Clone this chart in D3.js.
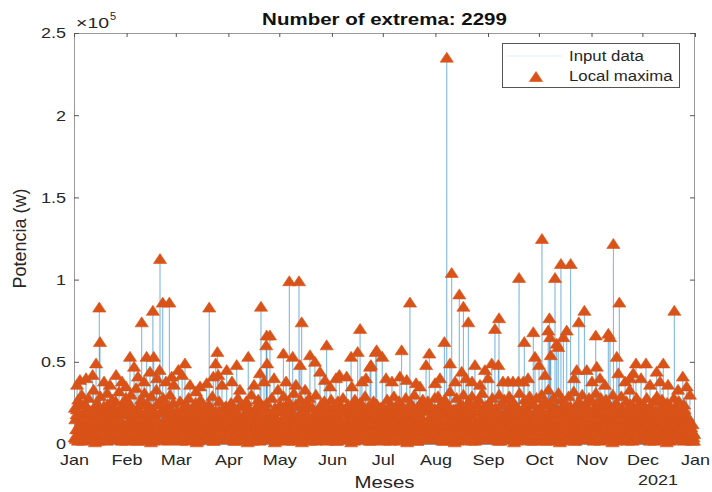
<!DOCTYPE html>
<html>
<head>
<meta charset="utf-8">
<script src="https://cdn.jsdelivr.net/npm/d3@7"></script>
<style>
  body { margin: 0; background: #fff; }
  svg text { font-family: "Liberation Sans", Arial, Helvetica, sans-serif; fill: #262626; }
</style>
</head>
<body>
<svg id="chart" width="712" height="492"></svg>
<script>
// Daily power readings for 2020, in kW, by month: night-time bursts
const dailyLow = [
  [6,3,9,5,11,2,8,4,10,7,3,12,5,8,2,9,6,11,4,7,3,10,5,8,12,4,6,9,2,7,10],
  [5,9,3,11,6,8,2,10,4,7,12,5,3,9,6,11,2,8,4,10,7,3,9,5,12,6,4,8,3],
  [7,4,10,2,8,5,11,3,9,6,4,12,7,2,10,5,8,3,11,6,4,9,2,7,10,5,3,8,6,11,4],
  [3,8,5,11,2,9,6,4,10,7,3,12,5,8,2,9,6,11,4,7,3,10,5,8,12,4,6,9,2,7],
  [10,5,8,3,11,6,4,9,2,7,12,5,3,10,6,8,4,11,2,9,5,7,3,10,6,12,4,8,2,9,5],
  [4,9,6,2,10,7,3,11,5,8,4,12,6,2,9,5,10,3,7,11,4,8,2,6,9,5,12,3,7,10],
  [6,2,9,5,11,3,8,4,10,7,2,12,5,9,3,8,6,11,4,7,2,10,5,9,3,12,6,8,4,10,5],
  [8,4,11,6,2,9,5,12,3,7,10,4,8,2,11,6,9,3,7,12,5,2,10,6,4,9,3,11,7,5,8],
  [3,10,6,12,4,8,2,9,5,11,7,3,10,4,8,6,12,2,9,5,7,11,3,8,4,10,6,2,9,5],
  [9,4,12,6,2,10,5,8,3,11,7,4,9,2,12,6,8,3,10,5,7,2,11,4,9,6,3,12,5,8,4],
  [5,11,3,8,6,2,10,4,12,7,3,9,5,11,2,8,6,10,4,7,3,12,5,9,2,8,6,11,4,7],
  [7,3,10,5,12,4,8,2,11,6,9,3,7,10,4,8,2,12,5,6,9,3,7,4,10,5,8,3,6,2,4]
];

// morning bursts, kW
const dailyMorning = [
  [4,9,2,12,6,14,3,8,11,5,15,7,1,10,13,4,9,6,12,2,8,14,5,11,3,10,7,13,6,9,2],
  [11,5,14,3,9,7,13,2,10,6,15,4,12,8,1,11,5,9,14,3,7,12,6,10,2,13,8,4,11],
  [8,13,3,10,6,14,2,9,12,5,11,7,1,13,4,10,8,15,3,6,12,9,2,11,5,14,7,10,4,8,13],
  [5,12,8,2,14,6,10,3,13,7,11,1,9,15,4,8,12,6,2,10,14,5,11,3,9,13,7,1,12,6],
  [13,3,10,7,15,2,9,12,5,11,4,14,8,1,10,6,13,3,9,12,7,2,11,5,14,8,4,10,13,6,9],
  [7,12,2,10,5,14,8,3,11,6,13,1,9,15,4,10,7,12,3,8,14,5,11,2,9,13,6,10,4,12],
  [10,4,13,7,2,11,6,14,3,9,12,5,15,8,1,10,13,4,7,11,2,14,6,9,12,3,8,15,5,10,7],
  [3,11,6,14,9,2,12,5,10,15,7,1,13,8,4,11,6,14,3,9,12,5,10,2,13,7,15,4,8,11,6],
  [12,6,9,3,14,7,11,2,13,5,10,8,15,4,12,1,9,6,13,3,11,7,14,5,10,2,12,8,6,13],
  [6,14,3,11,8,2,13,7,10,4,15,9,1,12,6,11,3,14,8,5,13,2,10,7,15,4,11,9,3,12,6],
  [9,2,13,6,11,4,15,8,3,12,7,10,1,14,5,9,13,3,11,6,15,2,8,12,4,10,7,14,5,11],
  [4,11,7,14,2,10,6,13,9,3,12,5,15,8,1,11,6,13,3,9,12,4,10,7,2,8,5,6,3,4,2]
];

// main daytime burst, kW
const dailyHigh = [
  [22,18,27,12,30,16,24,9,28,20,14,33,19,25,11,29,17,23,8,31,21,15,27,13,26,19,32,10,24,18,28],
  [25,14,30,20,11,34,22,17,27,9,31,19,24,13,29,21,16,33,12,26,20,28,15,23,10,30,18,25,14],
  [20,12,26,16,9,23,18,28,11,21,15,25,8,19,27,13,22,17,10,24,14,29,12,20,16,26,9,21,18,23,11],
  [19,25,10,22,15,28,12,24,17,9,26,20,13,30,16,21,11,27,18,14,23,8,25,19,12,28,15,22,10,20],
  [24,13,29,18,10,26,21,15,31,12,23,17,27,9,20,25,14,28,11,22,16,30,13,19,24,8,26,18,21,12,27],
  [17,23,10,26,14,20,28,12,19,24,9,22,16,27,11,21,25,13,18,29,10,23,15,20,26,12,24,17,21,14],
  [22,15,27,11,24,19,29,13,21,26,10,23,17,28,12,20,25,14,30,18,9,24,16,27,21,13,26,11,22,19,28],
  [20,29,14,25,11,27,18,23,32,15,21,12,28,19,24,10,30,17,22,26,13,29,16,24,11,27,20,31,14,23,18],
  [25,13,28,19,22,10,30,16,24,27,12,21,29,15,26,18,23,11,31,20,14,27,22,17,29,12,25,19,28,15],
  [22,30,14,26,18,33,11,24,28,16,21,31,13,27,19,25,10,29,23,15,32,20,12,26,18,30,14,24,21,28,11],
  [26,17,31,12,23,28,15,21,27,10,24,19,30,13,25,22,14,29,18,11,26,20,33,16,23,12,28,19,25,15],
  [24,13,28,18,21,10,26,16,29,12,22,27,14,20,25,11,23,18,28,13,21,26,15,19,24,10,17,14,9,12,6]
];

// evening bursts, kW
const dailyEvening = [
  [15,21,10,24,13,19,8,22,16,11,20,14,23,9,18,12,21,7,17,24,13,19,10,22,15,8,20,14,23,11,18],
  [19,9,23,14,17,7,21,12,24,16,10,20,13,22,8,18,15,24,11,19,6,21,14,17,22,9,20,12,16],
  [13,18,7,21,11,16,23,9,19,14,6,20,12,17,22,8,15,19,10,21,13,7,18,16,11,20,9,14,22,12,17],
  [16,8,21,12,19,10,23,14,7,18,15,22,11,17,9,20,13,24,8,16,19,11,21,14,6,17,12,20,15,9],
  [11,20,14,7,22,16,9,19,13,24,10,18,15,21,8,17,12,23,14,6,19,11,20,16,9,22,13,18,10,21,15],
  [20,12,17,8,23,14,10,21,15,7,19,13,22,9,18,16,11,24,12,20,8,17,14,21,10,19,13,7,22,16],
  [14,19,8,22,16,11,20,13,24,9,17,15,21,7,18,12,23,10,19,14,8,22,16,11,20,13,24,9,17,15,21],
  [17,10,22,13,19,8,24,15,11,20,14,21,9,18,16,23,7,19,12,22,15,10,20,13,24,11,17,21,8,19,14],
  [10,22,15,18,7,21,13,24,9,17,20,12,16,23,8,19,14,21,11,18,22,9,15,20,13,24,10,17,12,19],
  [21,13,18,9,24,15,20,11,17,22,8,19,14,23,10,16,21,12,20,7,18,15,24,11,19,13,22,9,17,20,14],
  [13,22,9,19,15,24,11,18,20,8,21,14,17,23,10,19,12,22,16,9,20,14,24,11,18,21,7,16,22,12],
  [18,9,21,14,23,11,17,20,8,19,15,22,12,16,24,10,20,13,18,22,9,16,19,11,21,14,8,12,10,7,5]
];

// Larger demand peaks: day of year (0 = 1 Jan 2020) and power in kW
const peakDay = [
  1.8,3.5,7.1,11.0,13.0,14.9,15.3,17.7,21.2,24.8,
  28.3,30.6,33.0,35.4,37.7,39.9,41.3,42.8,44.8,46.5,
  47.0,48.9,50.4,50.7,52.3,54.2,56.2,57.6,58.9,61.5,
  63.7,65.4,68.4,71.9,74.3,78.2,79.7,82.1,83.5,84.5,
  85.0,87.2,90.0,93.1,95.9,97.8,102.7,106.1,109.6,110.2,
  112.0,113.3,113.6,113.8,115.5,117.9,120.2,123.4,125.0,126.9,
  128.9,130.8,132.6,133.2,134.2,136.2,139.1,142.0,145.0,147.9,
  148.9,150.9,154.4,156.4,160.7,163.3,163.7,167.2,168.6,169.7,
  172.1,174.5,175.0,177.8,178.4,181.7,183.9,187.4,192.1,193.1,
  196.1,198.0,201.6,203.9,207.5,209.4,212.8,215.7,218.3,219.7,
  221.6,222.6,224.6,227.1,228.5,229.5,231.0,232.4,234.6,236.3,
  239.3,242.2,244.0,246.2,248.1,250.1,250.5,252.8,255.8,258.7,
  261.9,262.3,264.8,265.4,267.6,270.7,271.7,274.1,275.8,277.6,
  279.5,280.2,280.6,281.0,283.5,284.5,285.4,287.0,288.4,290.4,
  292.7,294.7,296.3,297.5,300.8,302.2,305.3,307.5,308.1,310.0,
  312.9,314.9,315.9,317.9,319.9,320.8,321.4,324.8,327.7,329.6,
  331.2,334.2,337.1,339.5,343.4,345.4,347.3,350.1,353.8,356.0,
  358.8,361.1,363.0
];
const peakKW = [
  36,39,40,42,49,83,62,38,36,42,
  38,35,53,47,41,74,38,53,44,81,
  53,40,45,112.5,86,38,86,41,36,45,
  42,49,36,32,35,37,83,41,49,56,
  42,36,45,38,48,33,53,36,43,83.5,
  38,60,66,49,66,40,33,55,38,99,
  53,36,99,48,74,33,54,50,44,39,
  60,35,40,42,41,53,35,56,70,38,
  40,47,48,56,57,53,40,38,41,57,
  39,86,37,35,48,55,37,40,62,235,
  49,104,38,91,44,83.5,40,74,38,48,
  36,45,40,49,70,48,76.5,38,38,38,
  38,101,38,62,40,68,53,48,124.7,42,
  69,76.5,65,54,101,61,59,109.5,65,69,
  109.5,40,45,74,81,45,38,66,47,40,
  36,67,65,121.7,53,43,86,38,40,43,
  49,40,49,36,44,38,49,36,81,33,
  41,35,30
];

const monthStartDay = [0,31,60,91,121,152,182,213,244,274,305,335];
const yTickValues = [0, 0.5e5, 1e5, 1.5e5, 2e5, 2.5e5];
const titleText = "Number of extrema: 2299";
const xLabel = "Meses";
const yLabel = "Potencia (w)";
const legendLabels = ["Input data", "Local maxima"];

const lineColor = "#0072BD";
const markerColor = "#D95319";
const axisColor = "#9a9a9a";

const t0 = Date.UTC(2020, 0, 1);
const toDate = d => new Date(t0 + d * 864e5);

const svg = d3.select("#chart");
const plot = { left: 74, right: 695, top: 33, bottom: 444 };

const x = d3.scaleUtc()
  .domain([new Date(Date.UTC(2020, 0, 1)), new Date(Date.UTC(2021, 0, 1))])
  .range([plot.left, plot.right]);
const y = d3.scaleLinear().domain([0, 2.5e5]).range([plot.bottom, plot.top]);

// widen glyphs horizontally to the figure's export proportions
function stretch(sel, f) {
  sel.each(function () {
    const L = this.getComputedTextLength();
    this.setAttribute("textLength", L * f);
    this.setAttribute("lengthAdjust", "spacingAndGlyphs");
  });
}

// assemble the time series: readings sorted by time, with the idle level between bursts
const readings = [];
const addLayer = (layer, hourFrac) => layer.forEach((arr, mi) =>
  arr.forEach((v, i) => readings.push({ d: monthStartDay[mi] + i + hourFrac, v: v * 1e3 })));
addLayer(dailyLow, 0.12);
addLayer(dailyMorning, 0.35);
addLayer(dailyHigh, 0.55);
addLayer(dailyEvening, 0.8);
peakDay.forEach((d, i) => readings.push({ d, v: peakKW[i] * 1e3 }));
readings.sort((a, b) => a.d - b.d);

const series = [];
readings.forEach((p, i) => {
  if (i > 0) series.push({ d: (readings[i - 1].d + p.d) / 2, v: 0 });
  series.push(p);
});

// local maxima of the series (interior points above both neighbours)
const maxima = series.filter((p, i) =>
  i > 0 && i < series.length - 1 && p.v > series[i - 1].v && p.v > series[i + 1].v);

// input data line
svg.append("path")
  .datum(series)
  .attr("fill", "none")
  .attr("stroke", lineColor)
  .attr("stroke-opacity", 0.3)
  .attr("stroke-width", 1)
  .attr("d", d3.line().x(p => x(toDate(p.d))).y(p => y(p.v)));

// axes box
svg.append("rect")
  .attr("x", plot.left + 0.5).attr("y", plot.top + 0.5)
  .attr("width", plot.right - plot.left - 1).attr("height", plot.bottom - plot.top)
  .attr("fill", "none").attr("stroke", axisColor).attr("stroke-width", 1);

// x axis ticks (inward, bottom and top) and month labels
const monthTicks = d3.utcMonth.range(new Date(Date.UTC(2020, 0, 1)), new Date(Date.UTC(2021, 0, 2)));
const xAxis = d3.axisBottom(x).tickValues(monthTicks).tickFormat(d3.utcFormat("%b"))
  .tickSizeInner(-5).tickSizeOuter(0).tickPadding(10);
const gx = svg.append("g").attr("transform", `translate(0,${plot.bottom})`).call(xAxis);
gx.select(".domain").remove();
gx.selectAll(".tick line").attr("stroke", "#555");
gx.selectAll(".tick text").attr("font-size", 15).attr("font-family", null);
stretch(gx.selectAll(".tick text"), 1.2);

const gxTop = svg.append("g").attr("transform", `translate(0,${plot.top})`)
  .call(d3.axisTop(x).tickValues(monthTicks).tickFormat("").tickSizeInner(-4).tickSizeOuter(0));
gxTop.select(".domain").remove();
gxTop.selectAll(".tick line").attr("stroke", "#555");

// y axis ticks (inward, left and right)
const yAxis = d3.axisLeft(y).tickValues(yTickValues).tickFormat(v => d3.format("~g")(v / 1e5))
  .tickSizeInner(-5).tickSizeOuter(0).tickPadding(8);
const gy = svg.append("g").attr("transform", `translate(${plot.left},0)`).call(yAxis);
gy.select(".domain").remove();
gy.selectAll(".tick line").attr("stroke", "#555");
gy.selectAll(".tick text").attr("font-size", 15).attr("font-family", null);
stretch(gy.selectAll(".tick text"), 1.2);

const gyR = svg.append("g").attr("transform", `translate(${plot.right},0)`)
  .call(d3.axisRight(y).tickValues(yTickValues).tickFormat("").tickSizeInner(-5).tickSizeOuter(0));
gyR.select(".domain").remove();
gyR.selectAll(".tick line").attr("stroke", "#555");

// local maxima markers
const tri = "M0,-5.5L6.6,4.5L-6.6,4.5Z";
svg.append("g")
  .selectAll("path")
  .data(maxima)
  .join("path")
  .attr("d", tri)
  .attr("transform", p => `translate(${x(toDate(p.d))},${y(p.v)})`)
  .attr("fill", markerColor)
  .attr("stroke", markerColor)
  .attr("stroke-width", 0.6);

// exponent label
const ex = svg.append("text").attr("x", 76).attr("y", 28).attr("font-size", 15).text("\u00d710");
stretch(ex, 1.3);
svg.append("text").attr("x", 110).attr("y", 20).attr("font-size", 11).text("5");

// year label under the last month
const yr = svg.append("text").attr("x", 678).attr("y", 485).attr("text-anchor", "end")
  .attr("font-size", 15).text("2021");
stretch(yr, 1.2);

// title and axis labels
const tt = svg.append("text").attr("x", (plot.left + plot.right) / 2).attr("y", 25)
  .attr("text-anchor", "middle").attr("font-size", 16).attr("font-weight", "bold")
  .style("fill", "#111").text(titleText);
stretch(tt, 1.28);

const xl = svg.append("text").attr("x", (plot.left + plot.right) / 2).attr("y", 488)
  .attr("text-anchor", "middle").attr("font-size", 17).text(xLabel);
stretch(xl, 1.2);

svg.append("text")
  .attr("transform", `translate(26,${(plot.top + plot.bottom) / 2}) rotate(-90)`)
  .attr("text-anchor", "middle").attr("font-size", 18).text(yLabel);

// legend
const lg = svg.append("g");
lg.append("rect").attr("x", 502.5).attr("y", 43.5).attr("width", 177).attr("height", 44)
  .attr("fill", "#fff").attr("stroke", "#555").attr("stroke-width", 1);
lg.append("line").attr("x1", 507).attr("x2", 562).attr("y1", 56).attr("y2", 56)
  .attr("stroke", lineColor).attr("stroke-opacity", 0.12).attr("stroke-width", 1);
lg.append("path").attr("d", tri).attr("transform", "translate(536,77)")
  .attr("fill", markerColor).attr("stroke", markerColor).attr("stroke-width", 0.6);
legendLabels.forEach((s, i) => {
  const t = lg.append("text").attr("x", 569).attr("y", 61 + i * 20).attr("font-size", 14).text(s);
  stretch(t, 1.2);
});
</script>
</body>
</html>
